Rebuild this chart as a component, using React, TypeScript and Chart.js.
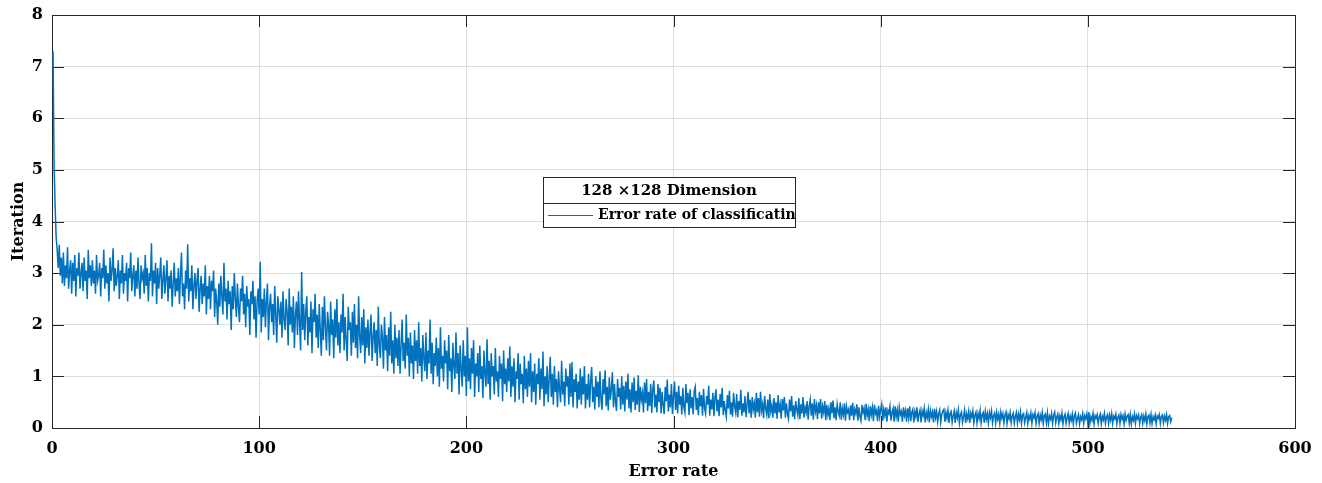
import React, { useEffect, useRef } from "react";
import { Chart, registerables } from "chart.js";

Chart.register(...registerables);

const X_START = 0.5;
const X_STEP = 0.5;
const X_TICKS = [0, 100, 200, 300, 400, 500, 600];
const Y_TICKS = [0, 1, 2, 3, 4, 5, 6, 7, 8];
const X_TITLE = "Error rate";
const Y_TITLE = "Iteration";
const LEGEND_TITLE = "128 \u00d7128 Dimension";
const SERIES_LABEL = "Error rate of classificatin";

const errorValues: number[] = [
  7.30, 5.10, 4.30, 3.70, 3.45, 3.10, 3.55, 2.95, 3.30, 2.80,
  3.40, 2.75, 3.15, 2.90, 3.50, 2.70, 3.05, 3.25, 2.60, 3.20,
  2.85, 3.35, 2.55, 3.10, 2.95, 3.40, 2.70, 3.00, 3.20, 2.65,
  3.30, 2.85, 3.05, 2.50, 3.45, 2.90, 3.15, 2.75, 3.25, 2.80,
  3.05, 2.60, 3.35, 2.85, 2.95, 3.20, 2.55, 3.10, 2.90, 3.45,
  2.70, 3.15, 2.80, 3.00, 2.45, 3.30, 2.85, 3.05, 3.48, 2.65,
  3.10, 2.75, 2.95, 3.25, 2.50, 3.05, 2.80, 3.35, 2.60, 3.00,
  2.85, 3.20, 2.45, 3.10, 2.90, 3.40, 2.65, 2.95, 3.15, 2.55,
  3.05, 2.70, 3.30, 2.80, 2.50, 3.15, 2.90, 3.00, 2.60, 3.35,
  2.75, 3.10, 2.45, 3.00, 2.85, 3.58, 2.55, 3.05, 2.80, 3.20,
  2.40, 3.10, 2.70, 2.95, 3.30, 2.50, 2.85, 3.15, 2.60, 2.90,
  3.25, 2.45, 2.95, 2.70, 3.05, 2.35, 2.80, 3.20, 2.55, 2.90,
  2.65, 3.10, 2.40, 2.95, 3.40, 2.55, 2.80, 2.30, 3.05, 2.70,
  3.56, 2.45, 2.90, 2.65, 3.15, 2.30, 2.75, 3.00, 2.50, 2.85,
  3.10, 2.25, 2.70, 2.95, 2.40, 2.80, 2.55, 3.15, 2.20, 2.75,
  2.50, 2.95, 2.30, 2.85, 2.65, 3.05, 2.15, 2.70, 2.45, 2.00,
  2.80, 2.35, 2.95, 2.55, 2.20, 3.20, 2.45, 2.70, 2.10, 2.85,
  2.40, 2.65, 1.90, 2.75, 2.30, 3.00, 2.50, 2.15, 2.80, 2.35,
  2.05, 2.70, 2.45, 2.95, 2.20, 2.60, 1.95, 2.75, 2.35, 2.50,
  1.80, 2.65, 2.40, 2.85, 2.10, 2.55, 1.75, 2.45, 2.70, 2.20,
  3.22, 1.85, 2.50, 2.15, 2.70, 1.95, 2.45, 2.80, 1.70, 2.35,
  2.60, 2.05, 2.40, 1.80, 2.75, 2.20, 1.65, 2.55, 2.30, 2.00,
  2.45, 1.75, 2.65, 2.10, 1.90, 2.50, 2.25, 1.60, 2.70, 2.00,
  2.35, 1.85, 2.55, 1.55, 2.20, 2.45, 1.80, 2.65, 2.05, 1.50,
  3.02, 1.90, 2.40, 1.70, 2.25, 2.55, 1.60, 2.15, 1.85, 2.45,
  1.45, 2.30, 2.05, 2.60, 1.75, 2.20, 1.55, 2.40, 1.90, 1.40,
  2.35, 1.70, 2.55, 1.95, 1.50, 2.25, 2.00, 1.40, 2.45, 1.80,
  2.10, 1.35, 2.30, 1.75, 2.50, 1.60, 2.05, 1.45, 2.20, 1.85,
  2.60, 1.50, 2.15, 1.70, 1.30, 2.35, 1.90, 2.05, 1.40, 2.25,
  1.65, 2.40, 1.55, 2.00, 1.35, 2.55, 1.80, 1.45, 2.15, 1.60,
  2.30, 1.25, 1.95, 1.55, 2.10, 1.40, 1.85, 2.20, 1.30, 1.75,
  2.05, 1.45, 1.90, 1.20, 2.35, 1.60, 1.35, 2.00, 1.75, 1.15,
  2.15, 1.50, 1.80, 1.10, 1.95, 1.40, 2.25, 1.25, 1.70, 1.05,
  2.00, 1.35, 1.75, 1.20, 1.90, 1.05, 1.60, 2.10, 1.30, 1.65,
  1.15, 2.20, 1.40, 1.75, 1.00, 1.85, 1.25, 1.60, 0.95, 1.90,
  1.30, 1.70, 1.05, 2.05, 1.20, 1.55, 0.90, 1.80, 1.35, 1.10,
  1.85, 0.95, 1.50, 1.25, 2.10, 1.05, 1.65, 0.85, 1.45, 1.20,
  1.75, 1.00, 1.55, 0.80, 1.95, 1.15, 1.40, 0.90, 1.70, 1.25,
  1.50, 0.75, 1.80, 1.10, 1.35, 0.70, 1.65, 1.20, 0.95, 1.85,
  1.05, 1.45, 0.65, 1.60, 1.15, 0.80, 1.70, 1.00, 1.40, 0.62,
  1.95, 0.90, 1.35, 0.75, 1.55, 1.05, 1.70, 0.60, 1.25, 1.00,
  1.45, 0.70, 1.60, 0.95, 1.20, 0.58, 1.50, 1.05, 0.80, 1.72,
  0.85, 1.30, 0.55, 1.45, 1.00, 1.20, 0.65, 1.55, 0.90, 1.10,
  0.60, 1.40, 0.95, 1.25, 0.52, 1.50, 0.85, 1.15, 0.70, 1.35,
  0.90, 1.58, 0.60, 1.20, 0.80, 1.35, 0.50, 1.10, 0.95, 1.45,
  0.55, 1.25, 0.85, 1.05, 0.48, 1.40, 0.75, 1.15, 0.60, 1.30,
  0.80, 1.45, 0.50, 1.10, 0.70, 1.25, 0.45, 1.05, 0.85, 1.35,
  0.55, 1.15, 0.75, 1.48, 0.42, 1.00, 0.65, 1.20, 0.50, 0.95,
  1.38, 0.60, 1.05, 0.45, 1.20, 0.70, 0.95, 0.40, 1.10, 0.75,
  0.50, 1.30, 0.65, 0.90, 0.42, 1.15, 0.80, 1.00, 0.45, 1.25,
  0.60, 1.28, 0.40, 0.95, 0.70, 1.05, 0.38, 0.90, 0.55, 1.15,
  0.45, 1.00, 0.65, 1.20, 0.38, 0.85, 0.55, 1.05, 0.40, 0.90,
  1.18, 0.50, 0.80, 0.36, 1.00, 0.60, 0.90, 0.40, 1.10, 0.55,
  0.35, 0.95, 0.65, 1.12, 0.42, 0.80, 0.34, 0.98, 0.55, 0.75,
  1.08, 0.40, 0.85, 0.50, 0.33, 0.95, 0.60, 0.78, 0.36, 1.00,
  0.45, 0.82, 0.32, 0.90, 0.55, 1.05, 0.38, 0.75, 0.30, 0.88,
  0.50, 0.98, 0.35, 0.72, 0.45, 1.02, 0.31, 0.80, 0.55, 0.68,
  0.30, 0.88, 0.48, 0.95, 0.33, 0.70, 0.42, 0.85, 0.29, 0.75,
  0.92, 0.40, 0.65, 0.30, 0.85, 0.50, 0.78, 0.28, 0.70, 0.45,
  0.27, 0.80, 0.52, 0.94, 0.32, 0.65, 0.40, 0.85, 0.27, 0.62,
  0.90, 0.35, 0.70, 0.28, 0.82, 0.45, 0.62, 0.26, 0.78, 0.40,
  0.30, 0.85, 0.48, 0.68, 0.25, 0.75, 0.38, 0.60, 0.26, 0.72,
  0.80, 0.35, 0.58, 0.25, 0.70, 0.42, 0.64, 0.24, 0.76, 0.38,
  0.28, 0.62, 0.45, 0.82, 0.24, 0.55, 0.36, 0.68, 0.23, 0.58,
  0.75, 0.32, 0.55, 0.23, 0.66, 0.40, 0.78, 0.25, 0.52, 0.34,
  0.22, 0.64, 0.38, 0.72, 0.26, 0.50, 0.22, 0.68, 0.42, 0.30,
  0.66, 0.21, 0.52, 0.35, 0.74, 0.24, 0.48, 0.30, 0.62, 0.21,
  0.45, 0.70, 0.28, 0.55, 0.20, 0.60, 0.36, 0.48, 0.20, 0.68,
  0.30, 0.58, 0.22, 0.70, 0.34, 0.46, 0.19, 0.62, 0.38, 0.26,
  0.55, 0.19, 0.66, 0.32, 0.44, 0.20, 0.58, 0.28, 0.50, 0.18,
  0.64, 0.30, 0.45, 0.18, 0.56, 0.34, 0.60, 0.20, 0.48, 0.27,
  0.18, 0.55, 0.32, 0.62, 0.22, 0.44, 0.17, 0.52, 0.36, 0.25,
  0.58, 0.17, 0.46, 0.28, 0.60, 0.20, 0.40, 0.30, 0.52, 0.16,
  0.42, 0.55, 0.24, 0.48, 0.16, 0.56, 0.32, 0.44, 0.17, 0.50,
  0.28, 0.56, 0.18, 0.42, 0.30, 0.52, 0.15, 0.45, 0.26, 0.38,
  0.15, 0.50, 0.28, 0.53, 0.19, 0.40, 0.15, 0.46, 0.32, 0.24,
  0.50, 0.16, 0.38, 0.26, 0.48, 0.14, 0.42, 0.30, 0.36, 0.15,
  0.44, 0.24, 0.49, 0.15, 0.36, 0.28, 0.46, 0.14, 0.40, 0.22,
  0.14, 0.45, 0.30, 0.38, 0.15, 0.47, 0.24, 0.36, 0.13, 0.42,
  0.26, 0.40, 0.13, 0.45, 0.28, 0.34, 0.13, 0.43, 0.22, 0.36,
  0.46, 0.14, 0.36, 0.24, 0.40, 0.12, 0.34, 0.28, 0.42, 0.14,
  0.30, 0.38, 0.12, 0.42, 0.22, 0.35, 0.12, 0.40, 0.26, 0.32,
  0.12, 0.40, 0.24, 0.34, 0.12, 0.38, 0.20, 0.42, 0.13, 0.30,
  0.36, 0.11, 0.32, 0.22, 0.40, 0.12, 0.28, 0.35, 0.11, 0.33,
  0.24, 0.38, 0.11, 0.30, 0.20, 0.36, 0.11, 0.34, 0.22, 0.31,
  0.11, 0.37, 0.20, 0.32, 0.12, 0.28, 0.35, 0.11, 0.26, 0.33,
  0.36, 0.12, 0.30, 0.19, 0.34, 0.10, 0.28, 0.32, 0.11, 0.24,
  0.33, 0.10, 0.30, 0.20, 0.35, 0.10, 0.26, 0.31, 0.11, 0.22,
  0.35, 0.10, 0.27, 0.18, 0.32, 0.10, 0.29, 0.21, 0.33, 0.10,
  0.25, 0.31, 0.10, 0.28, 0.18, 0.34, 0.10, 0.26, 0.30, 0.10,
  0.32, 0.17, 0.28, 0.10, 0.30, 0.20, 0.33, 0.10, 0.24, 0.29,
  0.10, 0.30, 0.17, 0.27, 0.09, 0.31, 0.19, 0.28, 0.10, 0.25,
  0.31, 0.09, 0.26, 0.18, 0.30, 0.10, 0.24, 0.29, 0.09, 0.22,
  0.30, 0.10, 0.27, 0.16, 0.31, 0.09, 0.25, 0.28, 0.10, 0.20,
  0.30, 0.09, 0.24, 0.17, 0.29, 0.09, 0.26, 0.20, 0.30, 0.09,
  0.23, 0.28, 0.09, 0.25, 0.16, 0.30, 0.09, 0.24, 0.27, 0.10,
  0.29, 0.09, 0.23, 0.17, 0.28, 0.09, 0.25, 0.31, 0.10, 0.21,
  0.27, 0.09, 0.24, 0.16, 0.29, 0.08, 0.22, 0.27, 0.09, 0.20,
  0.28, 0.09, 0.23, 0.15, 0.27, 0.08, 0.24, 0.29, 0.09, 0.19,
  0.26, 0.08, 0.22, 0.16, 0.28, 0.09, 0.24, 0.18, 0.27, 0.09,
  0.31, 0.09, 0.22, 0.15, 0.28, 0.08, 0.24, 0.19, 0.26, 0.09,
  0.21, 0.27, 0.08, 0.23, 0.16, 0.28, 0.09, 0.22, 0.26, 0.09,
  0.25, 0.15, 0.28, 0.09, 0.23, 0.18, 0.27, 0.08, 0.21, 0.25,
  0.09, 0.26, 0.17, 0.24, 0.08, 0.27, 0.15, 0.23, 0.26, 0.09,
  0.26, 0.08, 0.22, 0.15, 0.27, 0.09, 0.24, 0.18, 0.25, 0.08,
  0.21, 0.26, 0.09, 0.23, 0.14, 0.27, 0.08, 0.22, 0.25, 0.10,
  0.26, 0.09, 0.22, 0.16, 0.25, 0.08, 0.23, 0.19, 0.26, 0.09,
  0.22, 0.25, 0.10, 0.23, 0.15, 0.26, 0.09, 0.22, 0.24, 0.12,
  0.20,
];

const FONT = "'DejaVu Serif', serif";
const LINE_COLOR = "#0072BD";
const AXIS_COLOR = "#262626";

const matlabBox = {
  id: "matlabBox",
  beforeDatasetsDraw(chart: any) {
    const { ctx, chartArea, scales } = chart;
    const { left, right, top, bottom } = chartArea;
    ctx.save();
    ctx.strokeStyle = AXIS_COLOR;
    ctx.lineWidth = 1;
    const tl = 12;
    ctx.beginPath();
    X_TICKS.forEach((v) => {
      const px = Math.round(scales.x.getPixelForValue(v)) + 0.5;
      ctx.moveTo(px, bottom);
      ctx.lineTo(px, bottom - tl);
      ctx.moveTo(px, top);
      ctx.lineTo(px, top + tl);
    });
    Y_TICKS.forEach((v) => {
      const py = Math.round(scales.y.getPixelForValue(v)) + 0.5;
      ctx.moveTo(left, py);
      ctx.lineTo(left + tl, py);
      ctx.moveTo(right, py);
      ctx.lineTo(right - tl, py);
    });
    ctx.stroke();
    ctx.strokeRect(Math.round(left) + 0.5, Math.round(top) + 0.5, Math.round(right - left), Math.round(bottom - top));
    ctx.restore();
  },
  afterDraw(chart: any) {
    const { ctx } = chart;
    ctx.save();
    const bx = 543, by = 177, bw = 252, bh = 50, div = 203;
    ctx.fillStyle = "#ffffff";
    ctx.fillRect(bx, by, bw, bh);
    ctx.strokeStyle = AXIS_COLOR;
    ctx.lineWidth = 1;
    ctx.strokeRect(bx + 0.5, by + 0.5, bw, bh);
    ctx.beginPath();
    ctx.moveTo(bx, div + 0.5);
    ctx.lineTo(bx + bw, div + 0.5);
    ctx.stroke();
    ctx.fillStyle = "#000000";
    ctx.font = `bold 15px ${FONT}`;
    ctx.textAlign = "center";
    ctx.textBaseline = "middle";
    ctx.fillText(LEGEND_TITLE, bx + bw / 2, (by + div) / 2 + 1);
    ctx.strokeStyle = LINE_COLOR;
    ctx.beginPath();
    ctx.moveTo(bx + 5, 215.5);
    ctx.lineTo(bx + 50, 215.5);
    ctx.stroke();
    ctx.font = `bold 14px ${FONT}`;
    ctx.textAlign = "left";
    ctx.fillText(SERIES_LABEL, bx + 55, 215);
    ctx.restore();
  },
};

export default function App() {
  const ref = useRef<HTMLCanvasElement | null>(null);
  useEffect(() => {
    if (!ref.current) return;
    const points = errorValues.map((v, i) => ({ x: X_START + i * X_STEP, y: v }));
    const chart = new Chart(ref.current, {
      type: "line",
      data: {
        datasets: [
          {
            label: SERIES_LABEL,
            data: points,
            borderColor: LINE_COLOR,
            borderWidth: 1.5,
            pointRadius: 0,
            tension: 0,
            fill: false,
          },
        ],
      },
      options: {
        animation: false,
        responsive: true,
        maintainAspectRatio: false,
        layout: { padding: { left: 0, right: 27, top: 15, bottom: 0 } },
        plugins: { legend: { display: false }, tooltip: { enabled: false } },
        scales: {
          x: {
            type: "linear",
            min: 0,
            max: 600,
            afterFit: (s: any) => { s.height = 55; s.paddingLeft = 0; s.paddingRight = 0; },
            afterBuildTicks: (s: any) => { s.ticks = X_TICKS.map((v) => ({ value: v })); },
            grid: { color: "#dedede", lineWidth: 1, drawTicks: false },
            border: { display: false },
            ticks: { color: "#000", padding: 11, font: { family: FONT, size: 16, weight: "bold" } },
            title: { display: true, text: X_TITLE, color: "#000", padding: { top: 0, bottom: 2 }, font: { family: FONT, size: 16, weight: "bold" } },
          },
          y: {
            type: "linear",
            min: 0,
            max: 8,
            afterFit: (s: any) => { s.width = 52; s.paddingTop = 0; s.paddingBottom = 0; },
            afterBuildTicks: (s: any) => { s.ticks = Y_TICKS.map((v) => ({ value: v })); },
            grid: { color: "#dedede", lineWidth: 1, drawTicks: false },
            border: { display: false },
            ticks: { color: "#000", padding: 9, font: { family: FONT, size: 16, weight: "bold" } },
            title: { display: true, text: Y_TITLE, color: "#000", padding: { top: 9, bottom: 0 }, font: { family: FONT, size: 16, weight: "bold" } },
          },
        },
      },
      plugins: [matlabBox],
    });
    return () => chart.destroy();
  }, []);
  return (
    <div style={{ position: "absolute", left: 0, top: 0, width: 1322, height: 483 }}>
      <canvas ref={ref} />
    </div>
  );
}
